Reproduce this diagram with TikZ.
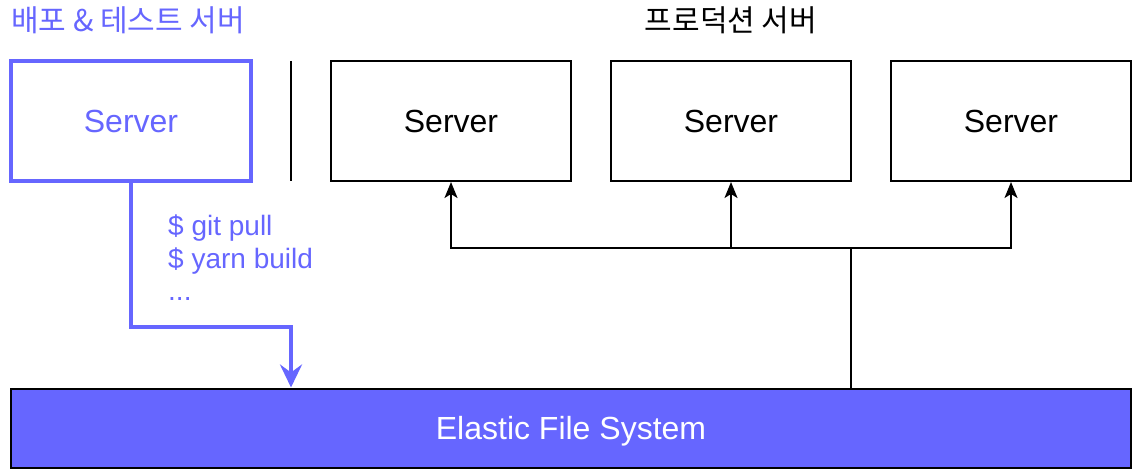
\documentclass[tikz,border=0pt]{standalone}
\usepackage{fontspec}
\setmainfont{Liberation Sans}
\newfontfamily\krfont{Noto Sans CJK KR}
\usetikzlibrary{arrows.meta}
\definecolor{devblue}{HTML}{6666FF}
\tikzset{
  srvbox/.style={draw=black, line width=2pt, minimum width=240pt, minimum height=120pt, inner sep=0pt, font=\fontsize{32}{38}\selectfont},
  devbox/.style={srvbox, draw=devblue, line width=4pt, text=devblue},
  efsbox/.style={draw=black, fill=devblue, line width=2pt, minimum width=1120pt, minimum height=79pt, inner sep=0pt, text depth=0pt, text=white, font=\fontsize{32}{38}\selectfont},
  title/.style={inner sep=0pt, font=\krfont\fontsize{30}{34}\selectfont},
  blackarrow/.style={draw=black, line width=2pt, -{Stealth[length=16pt,width=13pt,inset=4pt]}},
  bluearrow/.style={draw=devblue, line width=4pt, -{Stealth[length=23pt,width=22pt,inset=8pt]}},
  cmdtext/.style={inner sep=0pt, text=devblue, align=left, font=\fontsize{28}{32}\selectfont},
}
\begin{document}
\begin{tikzpicture}[x=1pt,y=-1pt]
\useasboundingbox (0,0) rectangle (1132,470);
% titles
\node[title, text=devblue, anchor=west] (devtitle) at (11,20) {배포 \& 테스트 서버};
\node[title, text=black] (prodtitle) at (731,20) {프로덕션 서버};
% boxes
\node[devbox] (dev) at (131,121) {Server};
\node[srvbox] (s1) at (451,121) {Server};
\node[srvbox] (s2) at (731,121) {Server};
\node[srvbox] (s3) at (1011,121) {Server};
\node[efsbox] (efs) at (571,428) {Elastic File System};
% divider
\coordinate (dtop) at (291,61);
\coordinate (dbot) at (291,181);
\draw[line width=2pt] (dtop) -- (dbot);
% commands
\node[cmdtext, anchor=base west] (cmd) at (168,300) {\$ git pull\\\$ yarn build\\...};
% blue connector
\coordinate (bend) at (291,327);
\draw[bluearrow] (dev.south) |- (bend) -- (bend |- efs.north);
% black connectors
\coordinate (junc) at (851,248);
\draw[blackarrow] (efs.north -| junc) -- (junc) -| (s1.south);
\draw[blackarrow] (efs.north -| junc) -- (junc) -| (s2.south);
\draw[blackarrow] (efs.north -| junc) -- (junc) -| (s3.south);
\end{tikzpicture}
\end{document}
